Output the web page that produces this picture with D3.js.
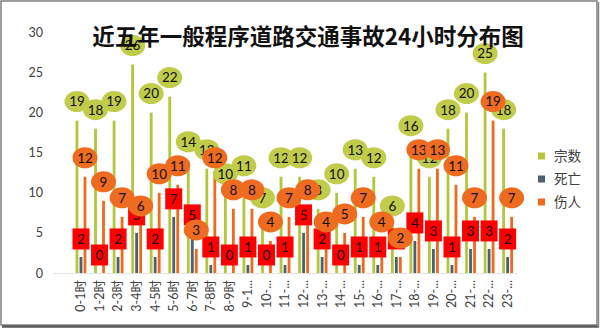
<!DOCTYPE html>
<html>
<head>
<meta charset="utf-8">
<script src="https://cdn.jsdelivr.net/npm/d3@7/dist/d3.min.js"></script>
<style>
  html, body { margin: 0; padding: 0; background: #fff; }
  svg { display: block; }
</style>
</head>
<body>
<svg id="chart" width="600" height="329"></svg>
<script>
// ---- data ----
const categories = ["0-1时","1-2时","2-3时","3-4时","4-5时","5-6时","6-7时","7-8时","8-9时","9-10时","10-11时","11-12时","12-13时","13-14时","14-15时","15-16时","16-17时","17-18时","18-19时","19-20时","20-21时","21-22时","22-23时","23-24时"];
const tickLabels = ["0-1时","1-2时","2-3时","3-4时","4-5时","5-6时","6-7时","7-8时","8-9时","9-1...","10-...","11-...","12-...","13-...","14-...","15-...","16-...","17-...","18-...","19-...","20-...","21-...","22-...","23-..."];
const cases    = [19,18,19,26,20,22,14,13,10,11,7,12,12,8,10,13,12,6,16,12,18,20,25,18];
const deaths   = [2,0,2,5,2,7,5,1,0,1,0,1,5,2,0,1,1,2,4,3,1,3,3,2];
const injuries = [12,9,7,6,10,11,3,12,8,8,4,7,8,4,5,7,4,2,13,13,11,7,19,7];
const seriesNames = ["宗数","死亡","伤人"];
const yTicks = [0,5,10,15,20,25,30];
const title = "近五年一般程序道路交通事故24小时分布图";

const colors = { "宗数": "#b7c53a", "死亡": "#4d6070", "伤人": "#f06a1c" };
const labelFill = { "宗数": "#c0cc4a", "死亡": "#ff0000", "伤人": "#ef6b20" };

const svg = d3.select("#chart");

// frame
svg.append("rect").attr("x", 1).attr("y", 1).attr("width", 596).attr("height", 324)
  .attr("fill", "#fff").attr("stroke", "#7f7f7f").attr("stroke-width", 1.5);
svg.append("line").attr("x1", 2).attr("x2", 599).attr("y1", 326.5).attr("y2", 326.5)
  .attr("stroke", "#5a5a5a").attr("stroke-width", 2.5);
svg.append("line").attr("x1", 598.5).attr("x2", 598.5).attr("y1", 2).attr("y2", 327)
  .attr("stroke", "#8a8a8a").attr("stroke-width", 1.5);

// scales
const x = d3.scaleBand().domain(categories).range([71.7, 516.9]).padding(0);
const xs = d3.scaleBand().domain(seriesNames).range([-6, 6]).paddingInner(0.3).paddingOuter(0.15);
const y = d3.scaleLinear().domain([0, 30]).range([273, 32.4]);

// faint x axis line
svg.append("line").attr("x1", 53).attr("x2", 517).attr("y1", y(0) + 0.5).attr("y2", y(0) + 0.5)
  .attr("stroke", "#e4e4e4").attr("stroke-width", 1);

// y axis
const yAxis = d3.axisLeft(y).tickValues(yTicks).tickSize(0).tickPadding(0);
const gy = svg.append("g").attr("transform", "translate(43,0)").call(yAxis);
gy.select(".domain").remove();
gy.selectAll("text").attr("font-family", "Lato, 'Open Sans', sans-serif").attr("font-size", 12.5)
  .attr("fill", "#404040");

// x axis
const xAxis = d3.axisBottom(x).tickSize(0).tickFormat((d, i) => tickLabels[i]);
const gx = svg.append("g").attr("transform", `translate(0,${y(0)})`).call(xAxis);
gx.select(".domain").remove();
gx.selectAll("text")
  .attr("font-family", "Lato, 'Noto Sans CJK SC', sans-serif").attr("font-size", 12.5)
  .attr("fill", "#404040")
  .attr("text-anchor", "end")
  .attr("dy", "0.35em")
  .attr("transform", "translate(0,7) rotate(-90)")
  .attr("x", 0).attr("y", 0);

const series = [
  { name: "宗数", values: cases },
  { name: "死亡", values: deaths },
  { name: "伤人", values: injuries }
];

// bars
const bw = xs.bandwidth();
series.forEach(s => {
  svg.append("g").selectAll("rect").data(s.values).join("rect")
    .attr("x", (d, i) => x(categories[i]) + x.bandwidth() / 2 + xs(s.name))
    .attr("y", d => y(d))
    .attr("width", bw)
    .attr("height", d => y(0) - y(d))
    .attr("fill", colors[s.name]);
});

// labels
const numFont = "Lato, 'Open Sans', sans-serif";
series.forEach(s => {
  const g = svg.append("g");
  s.values.forEach((d, i) => {
    const cx = x(categories[i]) + x.bandwidth() / 2 + xs(s.name) + bw / 2;
    if (s.name === "死亡") {
      const cy = y(d) - 18;
      g.append("rect").attr("x", cx - 8.5).attr("y", cy - 10.5).attr("width", 17).attr("height", 21)
        .attr("fill", labelFill[s.name]);
      g.append("text").attr("x", cx).attr("y", cy).attr("dy", "0.36em").attr("text-anchor", "middle")
        .attr("font-family", numFont).attr("font-size", 13.5).attr("fill", "#111").text(d);
    } else {
      const cy = y(d) - 19;
      g.append("ellipse").attr("cx", cx).attr("cy", cy).attr("rx", 12.5).attr("ry", 10.5)
        .attr("fill", labelFill[s.name]);
      g.append("text").attr("x", cx).attr("y", cy).attr("dy", "0.36em").attr("text-anchor", "middle")
        .attr("font-family", numFont).attr("font-size", 13.5).attr("fill", "#111").text(d);
    }
  });
});

// title
svg.append("text").attr("x", 308).attr("y", 45).attr("text-anchor", "middle")
  .attr("font-family", "'Noto Sans CJK SC', sans-serif").attr("font-weight", "bold")
  .attr("font-size", 22.5).attr("fill", "#111").text(title);

// legend
const leg = svg.append("g");
const legY = [156, 179, 202];
seriesNames.forEach((n, i) => {
  leg.append("rect").attr("x", 538).attr("y", legY[i] - 3.5).attr("width", 7).attr("height", 7)
    .attr("fill", colors[n]);
  leg.append("text").attr("x", 554).attr("y", legY[i]).attr("dy", "0.35em")
    .attr("font-family", "'Noto Sans CJK SC', sans-serif").attr("font-size", 13.5)
    .attr("fill", "#404040").text(n);
});
</script>
</body>
</html>
